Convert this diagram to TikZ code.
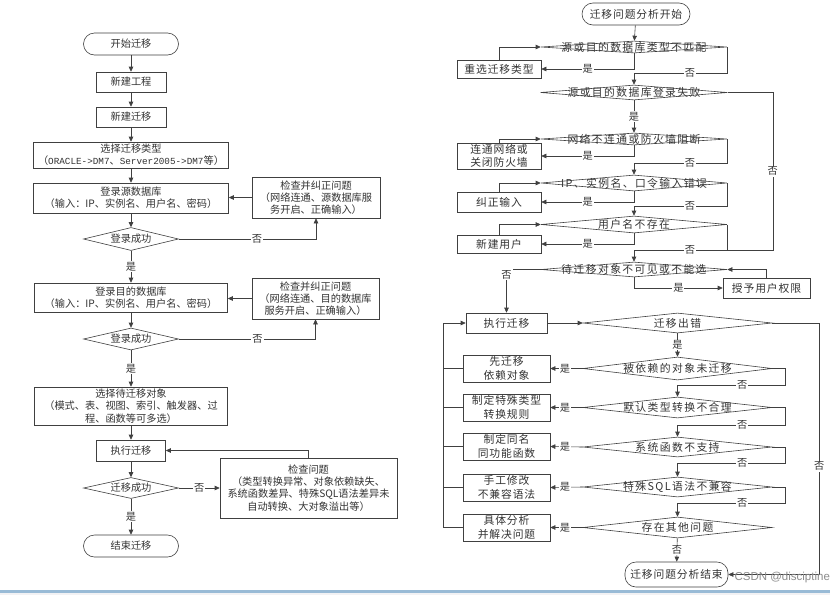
\documentclass[tikz,border=0pt]{standalone}
\usepackage{fontspec}
\usetikzlibrary{arrows.meta,shapes.geometric}
\newfontfamily\cjk{Noto Sans CJK SC}
\newfontfamily\cjkwide[LetterSpace=8]{Noto Sans CJK SC}
\newfontfamily\cjkdia[LetterSpace=13]{Noto Sans CJK SC}
\newfontfamily\monofnt{Liberation Mono}
\newfontfamily\markfnt{Liberation Sans}
\newcommand{\lfnt}{\cjk\fontsize{10.2}{12.3}\selectfont}
\newcommand{\rfnt}{\cjkwide\fontsize{10.8}{13.5}\selectfont}
\newcommand{\dfnt}{\cjkdia\fontsize{10.8}{13.5}\selectfont}
\tikzset{
  flow/.style={line width=0.6pt, draw=black!75},
  arr/.style={flow, -{Triangle[length=5pt,width=4.5pt]}},
  lbox/.style={draw=black!75, line width=0.6pt, inner sep=0pt, align=center, font=\lfnt, text=black!80},
  rbox/.style={lbox, font=\rfnt},
  term/.style={rounded corners=11pt},
  dia/.style 2 args={diamond, draw=black!75, line width=0.6pt, inner sep=0pt, minimum width=#1, minimum height=#2},
  dl/.style={label={[font=\lfnt, text=black!80]center:#1}},
  dr/.style={label={[font=\dfnt, text=black!80]center:#1}},
  yn/.style={fill=white, inner sep=1pt, font=\lfnt, text=black!80},
}
\begin{document}
\begin{tikzpicture}[x=1pt, y=-1pt]
  \useasboundingbox (0,0) rectangle (830,595);
  \fill[white] (0,0) rectangle (830,595);

  % Left flow: migration steps
  \node[lbox, term, minimum width=95pt, minimum height=22pt] (start) at (131,44) {开始迁移};
  \node[lbox, minimum width=70pt, minimum height=20pt] (proj) at (131,82) {新建工程};
  \node[lbox, minimum width=70pt, minimum height=20pt] (newmig) at (131,117) {新建迁移};
  \node[lbox, minimum width=195pt, minimum height=26pt] (type) at (131,155)
    {选择迁移类型\\（{\monofnt\fontsize{9.3}{12}\selectfont ORACLE->DM7}、{\monofnt\fontsize{9.3}{12}\selectfont Server2005->DM7}等）};
  \node[lbox, minimum width=195pt, minimum height=30pt] (src) at (131,198)
    {登录源数据库\\（输入：IP、实例名、用户名、密码）};
  \node[dia={95pt}{23pt}, dl=登录成功] (ok1) at (131,239) {};
  \node[lbox, minimum width=128pt, minimum height=41pt] (fix1) at (316,197.5)
    {检查并纠正问题\\（网络连通、源数据库服\\务开启、正确输入）};
  \node[lbox, minimum width=193pt, minimum height=29pt] (dst) at (131,297.5)
    {登录目的数据库\\（输入：IP、实例名、用户名、密码）};
  \node[dia={95pt}{22pt}, dl=登录成功] (ok2) at (131,339) {};
  \node[lbox, minimum width=127pt, minimum height=41pt] (fix2) at (315.5,298.5)
    {检查并纠正问题\\（网络连通、目的数据库\\服务开启、正确输入）};
  \node[lbox, minimum width=193pt, minimum height=38pt] (objs) at (131,406)
    {选择待迁移对象\\（模式、表、视图、索引、触发器、过\\程、函数等可多选）};
  \node[lbox, minimum width=69pt, minimum height=21pt] (run) at (131,450.5) {执行迁移};
  \node[dia={95pt}{21pt}, dl=迁移成功] (ok3) at (131,488) {};
  \node[lbox, minimum width=177pt, minimum height=60pt] (chk) at (308.5,488)
    {检查问题\\（类型转换异常、对象依赖缺失、\\系统函数差异、特殊SQL语法差异未\\自动转换、大对象溢出等）};
  \node[lbox, term, minimum width=95pt, minimum height=22pt] (fin) at (131,546) {结束迁移};

  \draw[arr] (start) -- (proj);
  \draw[arr] (proj) -- (newmig);
  \draw[arr] (newmig) -- (type);
  \draw[arr] (type) -- (src);
  \draw[arr] (src) -- (ok1);
  \draw[arr] (ok1.east) -- node[yn, pos=0.57]{否} (fix1.south |- ok1.east) -- (fix1.south);
  \draw[arr] (fix1.west) -- (fix1.west -| src.east);
  \draw[arr] (ok1) -- node[yn]{是} (dst);
  \draw[arr] (dst) -- (ok2);
  \draw[arr] (ok2.east) -- node[yn, pos=0.575]{否} (fix2.south |- ok2.east) -- (fix2.south);
  \draw[arr] (fix2.west) -- (fix2.west -| dst.east);
  \draw[arr] (ok2) -- node[yn]{是} (objs);
  \draw[arr] (objs) -- (run);
  \draw[arr] (run) -- (ok3);
  \draw[arr] (ok3.east) -- node[yn]{否} (chk.west);
  \draw[arr] (chk.north) |- (run.east);
  \draw[arr] (ok3) -- node[yn]{是} (fin);

  % Right flow: problem analysis
  \node[rbox, term, minimum width=108pt, minimum height=22pt] (rstart) at (636,14) {迁移问题分析开始};
  \node[dia={186pt}{12pt}, dr=源或目的数据库类型不匹配] (q1) at (634,47) {};
  \node[dia={187pt}{15pt}, dr=源或目的数据库登录失败] (q2) at (634,92.5) {};
  \node[dia={186pt}{12pt}, dr=网络不连通或防火墙阻断] (q3) at (634,139) {};
  \node[dia={186pt}{16pt}, dr=IP、实例名、口令输入错误] (q4) at (634,183) {};
  \node[dia={186pt}{17pt}, dr=用户名不存在] (q5) at (634,224.5) {};
  \node[dia={186pt}{15pt}, dr=待迁移对象不可见或不能选] (q6) at (634,269.5) {};
  \node[rbox, minimum width=84pt, minimum height=18pt] (b1) at (499,69) {重选迁移类型};
  \node[rbox, minimum width=84pt, minimum height=26pt] (b3) at (499,156) {连通网络或\\关闭防火墙};
  \node[rbox, minimum width=84pt, minimum height=20pt] (b4) at (499,202) {纠正输入};
  \node[rbox, minimum width=84pt, minimum height=18pt] (b5) at (499,244) {新建用户};
  \node[rbox, minimum width=87pt, minimum height=20pt] (grant) at (766.5,288) {授予用户权限};
  \coordinate (j1) at (634,73);
  \coordinate (j3) at (634,163);
  \coordinate (j4) at (634,206);
  \coordinate (j5) at (634,250);

  \draw[arr] (rstart) -- (q1);
  \draw[arr] (b1.north) |- (q1.west);
  \draw[arr] (q1.south) |- node[yn, pos=0.75]{是} (b1.east);
  \draw[arr] (q1.east) |- node[yn, pos=0.7]{否} (j1) -- (q2.north);
  \draw[arr] (q2) -- node[yn]{是} (q3);
  \draw[flow] (q2.east) -- ++(45,0) |- node[yn, pos=0.25]{否} (j5);
  \draw[arr] (b3.north) |- (q3.west);
  \draw[arr] (q3.south) |- node[yn, pos=0.75]{是} (b3.east);
  \draw[arr] (q3.east) |- node[yn, pos=0.7]{否} (j3) -- (q4.north);
  \draw[arr] (b4.north) |- (q4.west);
  \draw[arr] (q4.south) |- node[yn, pos=0.75]{是} (b4.east);
  \draw[arr] (q4.east) |- node[yn, pos=0.7]{否} (j4) -- (q5.north);
  \draw[arr] (b5.north) |- (q5.west);
  \draw[arr] (q5.south) |- node[yn, pos=0.75]{是} (b5.east);
  \draw[arr] (q5.east) |- node[yn, pos=0.7]{否} (j5) -- (q6.north);
  \draw[arr] (q6.south) |- node[yn, pos=0.75]{是} (grant.west);
  \draw[arr] (grant.north) |- (q6.east);

  % Execution and error checks
  \node[rbox, minimum width=81pt, minimum height=20pt] (run2) at (506.5,323) {执行迁移};
  \node[dia={189pt}{20pt}, dr=迁移出错] (e0) at (677.5,323) {};
  \node[dia={189pt}{23pt}, dr=被依赖的对象未迁移] (ea) at (677.5,368.5) {};
  \node[dia={189pt}{21pt}, dr=默认类型转换不合理] (eb) at (677.5,407.5) {};
  \node[dia={189pt}{20pt}, dr=系统函数不支持] (ec) at (677.5,447) {};
  \node[dia={189pt}{20pt}, dr=特殊SQL语法不兼容] (ed) at (677.5,487) {};
  \node[dia={189pt}{21pt}, dr=存在其他问题] (ee) at (677.5,527.5) {};
  \node[rbox, minimum width=87pt, minimum height=27pt] (fa) at (506.5,368.5) {先迁移\\依赖对象};
  \node[rbox, minimum width=87pt, minimum height=27pt] (fb) at (506.5,407.5) {制定特殊类型\\转换规则};
  \node[rbox, minimum width=87pt, minimum height=27pt] (fc) at (506.5,446.5) {制定同名\\同功能函数};
  \node[rbox, minimum width=87pt, minimum height=27pt] (fd) at (506.5,487.5) {手工修改\\不兼容语法};
  \node[rbox, minimum width=87pt, minimum height=27pt] (fe) at (506.5,527.5) {具体分析\\并解决问题};
  \node[rbox, term, minimum width=103pt, minimum height=25pt] (rend) at (676.5,574.5) {迁移问题分析结束};
  \coordinate (ka) at (677.5,385);
  \coordinate (kb) at (677.5,425);
  \coordinate (kc) at (677.5,463);
  \coordinate (kd) at (677.5,503);

  \draw[arr] (q6.west) -| node[yn, pos=0.56]{否} (run2.north);
  \draw[arr] (run2) -- (e0);
  \draw[arr] (e0) -- node[yn]{是} (ea);
  \draw[arr] (e0.east) -- ++(47,0) |- node[yn, pos=0.285]{否} (rend.east);
  \draw[arr] (ea.west) -- node[yn, pos=0.55]{是} (fa.east);
  \draw[arr] (eb.west) -- node[yn, pos=0.55]{是} (fb.east);
  \draw[arr] (ec.west) -- node[yn, pos=0.55]{是} (fc.east);
  \draw[arr] (ed.west) -- node[yn, pos=0.55]{是} (fd.east);
  \draw[arr] (ee.west) -- node[yn, pos=0.55]{是} (fe.east);
  \draw[arr] (ea.east) -- ++(13,0) |- node[yn, pos=0.7]{否} (ka) -- (eb.north);
  \draw[arr] (eb.east) -- ++(13,0) |- node[yn, pos=0.7]{否} (kb) -- (ec.north);
  \draw[arr] (ec.east) -- ++(13,0) |- node[yn, pos=0.7]{否} (kc) -- (ed.north);
  \draw[arr] (ed.east) -- ++(13,0) |- node[yn, pos=0.7]{否} (kd) -- (ee.north);
  \draw[arr] (ee) -- node[yn]{否} (rend);
  \draw[arr] (fe.west) -- ++(-19,0) |- (run2.west);
  \foreach \b in {fa,fb,fc,fd}
    \draw[flow] (\b.west) -- ++(-19,0);

  % Watermark and page edge
  \node[text=black!45, font=\markfnt\fontsize{11.5}{14}\selectfont, anchor=west] (mark) at (731,578) {CSDN @disciptine};
  \fill[blue!45!cyan!60!black!40] (0,590) rectangle (830,592.5);
  \fill[blue!10!black!5] (0,592.5) rectangle (830,595);
\end{tikzpicture}
\end{document}
